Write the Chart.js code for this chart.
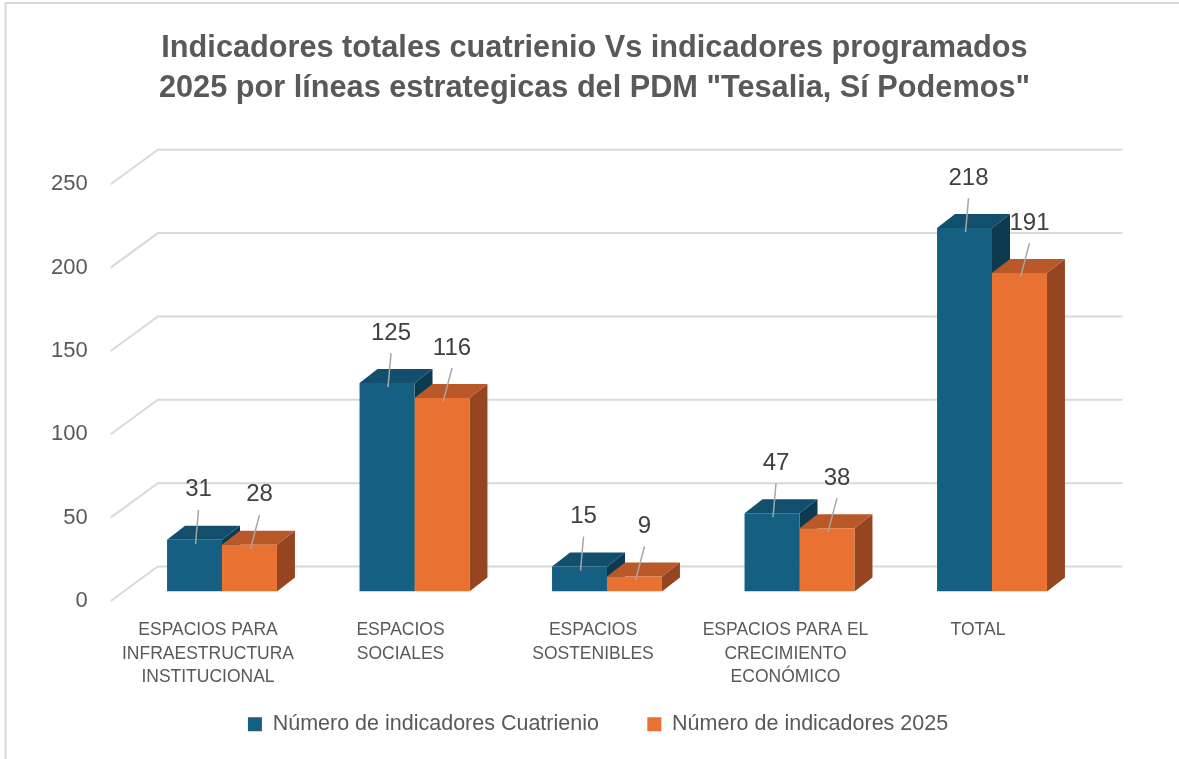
<!DOCTYPE html>
<html>
<head>
<meta charset="utf-8">
<script src="https://cdn.jsdelivr.net/npm/chart.js@4.4.1/dist/chart.umd.min.js"></script>
<style>
html, body { margin: 0; padding: 0; background: #fff; }
#wrap { width: 1179px; height: 759px; }
</style>
</head>
<body>
<div id="wrap"><canvas id="chart" width="1179" height="759"></canvas></div>
<script>
// chart data
const categories = [
    ['ESPACIOS PARA', 'INFRAESTRUCTURA', 'INSTITUCIONAL'],
    ['ESPACIOS', 'SOCIALES'],
    ['ESPACIOS', 'SOSTENIBLES'],
    ['ESPACIOS PARA EL', 'CRECIMIENTO', 'ECONÓMICO'],
    ['TOTAL']
];
const seriesNames = ['Número de indicadores Cuatrienio', 'Número de indicadores 2025'];
const cuatrienioValues = [31, 125, 15, 47, 218];
const programados2025Values = [28, 116, 9, 38, 191];
const yTickValues = [0, 50, 100, 150, 200, 250];
const titleLines = [
    'Indicadores totales cuatrienio Vs indicadores programados',
    '2025 por líneas estrategicas del PDM "Tesalia, Sí Podemos"'
];

const FONT = "'Liberation Sans', Arial, sans-serif";
const TEXT_GREY = '#595959';
const GRID_GREY = '#D9D9D9';

// front / top / side shades for the 3D look
const palette = [
    { front: '#156082', top: '#114F6C', side: '#0C3B51' },
    { front: '#E97132', top: '#B9592A', side: '#95451F' }
];
const DEPTH_X = 18;
const DEPTH_Y = -14;

// frame border round the chart
const frameBorder = {
    id: 'frameBorder',
    beforeDraw(chart) {
        const ctx = chart.ctx;
        ctx.save();
        ctx.fillStyle = '#fff';
        ctx.fillRect(0, 0, chart.width, chart.height);
        ctx.strokeStyle = GRID_GREY;
        ctx.lineWidth = 2;
        ctx.beginPath();
        ctx.moveTo(5.5, chart.height);
        ctx.lineTo(5.5, 3);
        ctx.lineTo(chart.width, 3);
        ctx.stroke();
        ctx.restore();
    }
};

// perspective gridlines + top/side faces of the bars
const depthBars = {
    id: 'depthBars',
    beforeDatasetsDraw(chart) {
        const ctx = chart.ctx;
        const area = chart.chartArea;
        const yScale = chart.scales.y;

        ctx.save();
        ctx.strokeStyle = GRID_GREY;
        ctx.lineWidth = 2;
        yTickValues.forEach(v => {
            const py = yScale.getPixelForValue(v);
            ctx.beginPath();
            ctx.moveTo(area.left - 15, py + 9.5);
            ctx.lineTo(area.left + 32, py - 25);
            ctx.lineTo(area.right + 34, py - 25);
            ctx.stroke();
        });

        const metas = chart.data.datasets.map((d, i) => chart.getDatasetMeta(i));
        for (let i = 0; i < categories.length; i++) {
            metas.forEach((meta, d) => {
                const bar = meta.data[i];
                if (!bar) return;
                const { x, y, base, width } = bar.getProps(['x', 'y', 'base', 'width'], true);
                const left = x - width / 2;
                const right = x + width / 2;
                const c = palette[d];

                ctx.fillStyle = c.side;
                ctx.beginPath();
                ctx.moveTo(right, y);
                ctx.lineTo(right + DEPTH_X, y + DEPTH_Y);
                ctx.lineTo(right + DEPTH_X, base + DEPTH_Y);
                ctx.lineTo(right, base);
                ctx.closePath();
                ctx.fill();

                ctx.fillStyle = c.top;
                ctx.beginPath();
                ctx.moveTo(left, y);
                ctx.lineTo(left + DEPTH_X, y + DEPTH_Y);
                ctx.lineTo(right + DEPTH_X, y + DEPTH_Y);
                ctx.lineTo(right, y);
                ctx.closePath();
                ctx.fill();
            });
        }
        ctx.restore();
    }
};

// value labels with leader lines
const labelOffsets = [{ x: 4, y: -50 }, { x: 10, y: -50 }];
const valueLabels = {
    id: 'valueLabels',
    afterDatasetsDraw(chart) {
        const ctx = chart.ctx;
        ctx.save();
        ctx.font = '24px ' + FONT;
        ctx.textAlign = 'center';
        ctx.textBaseline = 'middle';
        chart.data.datasets.forEach((ds, d) => {
            const meta = chart.getDatasetMeta(d);
            meta.data.forEach((bar, i) => {
                const { x, y } = bar.getProps(['x', 'y'], true);
                const lx = x + labelOffsets[d].x;
                const ly = y + labelOffsets[d].y;
                ctx.strokeStyle = '#A6A6A6';
                ctx.lineWidth = 1.5;
                ctx.beginPath();
                ctx.moveTo(lx, ly + 20);
                ctx.lineTo(x + 1, y + 4);
                ctx.stroke();
                ctx.fillStyle = '#404040';
                ctx.fillText(String(ds.data[i]), lx, ly);
            });
        });
        ctx.restore();
    }
};

const ctx = document.getElementById('chart').getContext('2d');
new Chart(ctx, {
    type: 'bar',
    data: {
        labels: categories,
        datasets: [
            {
                label: seriesNames[0],
                data: cuatrienioValues,
                backgroundColor: palette[0].front,
                borderWidth: 0
            },
            {
                label: seriesNames[1],
                data: programados2025Values,
                backgroundColor: palette[1].front,
                borderWidth: 0
            }
        ]
    },
    options: {
        responsive: false,
        devicePixelRatio: 1,
        animation: false,
        categoryPercentage: 0.571,
        barPercentage: 1,
        layout: { padding: { top: 0, left: 10, right: 0, bottom: 14 } },
        plugins: {
            title: {
                display: true,
                text: titleLines,
                color: TEXT_GREY,
                font: { family: FONT, size: 30.7, weight: 'bold', lineHeight: 1.3 },
                padding: { top: 29, bottom: 65.9 }
            },
            legend: {
                position: 'bottom',
                fullSize: false,
                labels: {
                    boxWidth: 14,
                    boxHeight: 14,
                    padding: 24.5,
                    color: TEXT_GREY,
                    font: { family: FONT, size: 21.5 },
                    generateLabels: chart => {
                        const items = Chart.defaults.plugins.legend.labels.generateLabels(chart);
                        items[0].text += '    ';
                        items[1].text += '   ';
                        return items;
                    }
                }
            },
            tooltip: { enabled: false }
        },
        scales: {
            x: {
                grid: { display: false, drawTicks: false },
                border: { display: false },
                ticks: {
                    color: TEXT_GREY,
                    font: { family: FONT, size: 17.5, lineHeight: 1.34 },
                    padding: 27,
                    labelOffset: -14,
                    maxRotation: 0,
                    autoSkip: false
                },
                afterFit: s => { s.height = 97.5; }
            },
            y: {
                min: 0,
                max: 250,
                afterBuildTicks: s => { s.ticks = yTickValues.map(v => ({ value: v })); },
                grid: { display: false, drawTicks: false },
                border: { display: false },
                ticks: {
                    color: TEXT_GREY,
                    font: { family: FONT, size: 22 },
                    padding: 38,
                    labelOffset: 9.5
                },
                afterFit: s => { s.width = 115.75; }
            },
            yRight: {
                position: 'right',
                display: true,
                grid: { display: false, drawTicks: false },
                border: { display: false },
                ticks: { display: false },
                afterFit: s => { s.width = 90.75; }
            }
        }
    },
    plugins: [frameBorder, depthBars, valueLabels]
});
</script>
</body>
</html>
